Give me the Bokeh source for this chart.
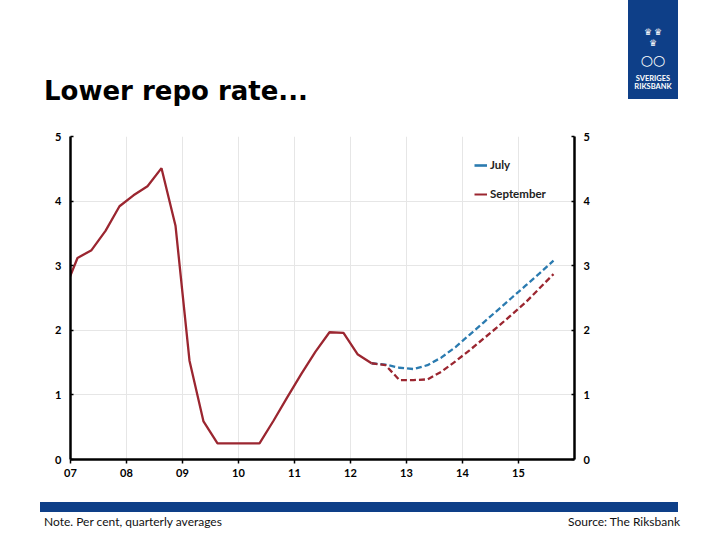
from bokeh.plotting import figure
from bokeh.layouts import column
from bokeh.models import Range1d, LinearAxis, FixedTicker, Legend, LegendItem, Div
from bokeh.embed import file_html
from bokeh.resources import INLINE

# repo rate outcome, per cent, quarterly averages (first quarter is 2006Q4)
outcome_start = (2006, 4)
outcome = [2.58, 3.12, 3.24, 3.54, 3.92, 4.09, 4.23, 4.51, 3.62, 1.53, 0.59,
           0.25, 0.25, 0.25, 0.25, 0.60, 0.97, 1.33, 1.67, 1.97, 1.96, 1.63, 1.49]

# forecasts (first quarter is 2012Q2)
forecast_start = (2012, 2)
july = [1.49, 1.47, 1.42, 1.40, 1.46, 1.58, 1.74, 1.93, 2.12, 2.31, 2.50, 2.69, 2.88, 3.08]
september = [1.49, 1.46, 1.23, 1.23, 1.24, 1.36, 1.52, 1.69, 1.87, 2.05, 2.24, 2.43, 2.65, 2.87]

year_ticks = [2007, 2008, 2009, 2010, 2011, 2012, 2013, 2014, 2015]
year_labels = ["07", "08", "09", "10", "11", "12", "13", "14", "15"]
rate_ticks = [0, 1, 2, 3, 4, 5]

title = "Lower repo rate..."
note = "Note. Per cent, quarterly averages"
source = "Source: The Riksbank"

RED = "#9b2630"
BLUE = "#2b7bb0"
RB_BLUE = "#0e3f88"
FONT = "Lato"
W = 716


def quarter_mids(start, n):
    '''x position (decimal year, middle of quarter) for n quarters from start'''
    year, q = start
    xs = []
    for i in range(n):
        xs.append(year + (q - 1) * 0.25 + 0.125)
        q += 1
        if q > 4:
            q = 1
            year += 1
    return xs


# header: title and the Riksbank logo
head_html = f'''
<div style="position:relative;width:{W}px;height:125px;overflow:hidden;">
 <div style="position:absolute;left:44px;top:78px;font-family:'DejaVu Sans';font-weight:bold;
      font-size:26px;line-height:26px;color:black;white-space:nowrap;">{title}</div>
 <div style="position:absolute;left:628px;top:0px;width:50px;height:99px;background:{RB_BLUE};
      color:white;text-align:center;font-family:'DejaVu Sans';">
  <div style="position:absolute;top:28px;width:50px;font-size:9px;line-height:9px;">&#9819;&#8201;&#9819;</div>
  <div style="position:absolute;top:39px;width:50px;font-size:9px;line-height:9px;">&#9819;</div>
  <div style="position:absolute;top:53px;width:50px;font-size:14px;line-height:14px;">&#9675;&#9675;</div>
  <div style="position:absolute;top:75px;width:50px;font-family:{FONT};font-weight:bold;
       font-size:7.5px;line-height:8px;">SVERIGES<br>RIKSBANK</div>
 </div>
</div>'''
head = Div(text=head_html, width=W, height=125, margin=0)

p = figure(width=W, height=365, x_range=Range1d(2007.0, 2016.0), y_range=Range1d(0, 5),
           output_backend="svg", toolbar_location=None,
           min_border_left=70, min_border_right=142, min_border_top=11, min_border_bottom=31)
p.outline_line_color = None
p.extra_y_ranges = {"key": Range1d(100, 101)}

p.line(quarter_mids(forecast_start, len(july)), july, line_color=BLUE, line_width=2.3,
       line_dash="6 3")
p.line(quarter_mids(forecast_start, len(september)), september, line_color=RED, line_width=2.3,
       line_dash="6 3")
p.line(quarter_mids(outcome_start, len(outcome)), outcome, line_color=RED, line_width=2.3)

# solid copies on an off-screen range, only for the legend keys
lj = p.line(quarter_mids(forecast_start, len(july)), july, y_range_name="key",
            line_color=BLUE, line_width=2.6)
ls = p.line(quarter_mids(forecast_start, len(september)), september, y_range_name="key",
            line_color=RED, line_width=2)
legend = Legend(items=[LegendItem(label="July", renderers=[lj]),
                       LegendItem(label="September", renderers=[ls])],
                location=(404, 259), border_line_color=None, background_fill_alpha=0,
                padding=6, spacing=16, glyph_width=13, glyph_height=12,
                label_height=12, label_standoff=3, label_text_font=FONT,
                label_text_font_style="bold", label_text_font_size="11.5px",
                label_text_color="#222222")
p.add_layout(legend)

p.xaxis.ticker = FixedTicker(ticks=year_ticks)
p.xaxis.major_label_overrides = dict(zip(year_ticks, year_labels))
p.xaxis.major_tick_out = 4
p.xaxis.major_tick_in = 0
p.xaxis.minor_tick_out = 0
p.xaxis.major_label_standoff = 5

p.add_layout(LinearAxis(), "right")
p.yaxis.ticker = FixedTicker(ticks=rate_ticks)
p.yaxis.major_tick_in = 3
p.yaxis.major_tick_out = 0
p.yaxis.minor_tick_in = 0
p.yaxis.minor_tick_out = 0
p.yaxis.major_label_standoff = 9

for ax in p.xaxis + p.yaxis:
    ax.axis_line_width = 2.5
    ax.axis_line_color = "black"
    ax.major_tick_line_color = "black"
    ax.major_tick_line_width = 1.5
    ax.major_label_text_font = FONT
    ax.major_label_text_font_style = "bold"
    ax.major_label_text_font_size = "11px"
    ax.major_label_text_color = "black"

p.xgrid.ticker = FixedTicker(ticks=year_ticks[1:])
p.ygrid.ticker = FixedTicker(ticks=rate_ticks[1:])
p.grid.grid_line_color = "#e6e6e6"
p.grid.grid_line_width = 1

# footer: blue bar, note and source
foot_html = f'''
<div style="position:relative;width:{W}px;height:45px;overflow:hidden;font-family:{FONT};
     font-size:12px;line-height:14px;color:#111111;">
 <div style="position:absolute;left:40px;top:12px;width:638px;height:10px;background:{RB_BLUE};"></div>
 <div style="position:absolute;left:44px;top:25px;white-space:nowrap;">{note}</div>
 <div style="position:absolute;right:{W - 680}px;top:25px;white-space:nowrap;">{source}</div>
</div>'''
foot = Div(text=foot_html, width=W, height=45, margin=0)

page = column(head, p, foot, spacing=0)
open("out.html", "w").write(file_html(page, INLINE))
